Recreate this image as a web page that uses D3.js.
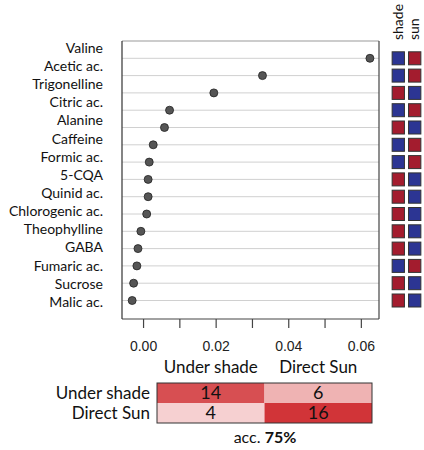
<!DOCTYPE html>
<html>
<head>
<meta charset="utf-8">
<script src="https://cdn.jsdelivr.net/npm/d3@7"></script>
<style>
  body { margin: 0; background: #fff; }
</style>
</head>
<body>
<div id="chart"></div>
<script>
// metabolite names, top to bottom
const metabolites = ["Valine", "Acetic ac.", "Trigonelline", "Citric ac.", "Alanine", "Caffeine",
  "Formic ac.", "5-CQA", "Quinid ac.", "Chlorogenic ac.", "Theophylline", "GABA",
  "Fumaric ac.", "Sucrose", "Malic ac."];
// importance values
const importance = [0.0625, 0.0329, 0.0195, 0.0073, 0.0059, 0.0028, 0.0017, 0.0014,
  0.0014, 0.0010, -0.0006, -0.0014, -0.0017, -0.0026, -0.0030];
// which group is high: "shade" / "sun" column colours per row
const shadeHigh = [true, true, false, true, false, true, true, false, false, false, false, false, true, false, false];
const groups = ["shade", "sun"];
const xTicks = [0, 0.01, 0.02, 0.03, 0.04, 0.05, 0.06];

// confusion matrix
const classes = ["Under shade", "Direct Sun"];
const confusion = [[14, 6], [4, 16]];
const accuracy = "75%";

const width = 424, height = 450;
const svg = d3.select("#chart").append("svg")
  .attr("width", width)
  .attr("height", height);

const box = { left: 122, right: 379, top: 41, bottom: 319 };
const labFont = "Lato, 'Open Sans', sans-serif";

const x = d3.scaleLinear()
  .domain([-0.0058, 0.065])
  .range([box.left, box.right]);

// rows for points / squares
const y = d3.scalePoint()
  .domain(metabolites)
  .range([58.3, 300.5]);

// labels sit a bit off the rows (as in the original)
const yLab = d3.scalePoint()
  .domain(metabolites)
  .range([48, 302]);

// gridlines
svg.selectAll(".grid")
  .data(metabolites)
  .enter()
  .append("line")
  .attr("x1", box.left)
  .attr("x2", box.right)
  .attr("y1", d => y(d))
  .attr("y2", d => y(d))
  .attr("stroke", "#d0d0d0")
  .attr("stroke-width", 1);

// frame
svg.append("line").attr("x1", box.left).attr("x2", box.right).attr("y1", box.top).attr("y2", box.top)
  .attr("stroke", "#999").attr("stroke-width", 1.2);
svg.append("line").attr("x1", box.left).attr("x2", box.right).attr("y1", box.bottom).attr("y2", box.bottom)
  .attr("stroke", "#444").attr("stroke-width", 1.2);
svg.append("line").attr("x1", box.left).attr("x2", box.left).attr("y1", box.top).attr("y2", box.bottom)
  .attr("stroke", "#333").attr("stroke-width", 1.2);
svg.append("line").attr("x1", box.right).attr("x2", box.right).attr("y1", box.top).attr("y2", box.bottom)
  .attr("stroke", "#444").attr("stroke-width", 1.2);

// points
svg.selectAll(".dot")
  .data(metabolites)
  .enter()
  .append("circle")
  .attr("cx", (d, i) => x(importance[i]))
  .attr("cy", d => y(d))
  .attr("r", 4)
  .attr("fill", "#555")
  .attr("stroke", "#222")
  .attr("stroke-width", 0.8);

// metabolite labels
svg.selectAll(".lab")
  .data(metabolites)
  .enter()
  .append("text")
  .attr("x", 103)
  .attr("y", d => yLab(d))
  .attr("dy", "0.35em")
  .attr("text-anchor", "end")
  .attr("font-family", labFont)
  .attr("font-size", 14)
  .attr("fill", "#111")
  .text(d => d);

// x axis
const xAxis = svg.append("g")
  .attr("transform", "translate(0," + 319 + ")")
  .call(d3.axisBottom(x).tickValues(xTicks).tickSize(9)
    .tickFormat(d => (Math.round(d * 100) % 2 === 0 ? d3.format(".2f")(d) : "")));
xAxis.select(".domain").remove();
xAxis.selectAll("line").attr("stroke", "#444").attr("stroke-width", 1.2);
xAxis.selectAll("text")
  .attr("font-family", "'Liberation Sans', Arial, sans-serif")
  .attr("font-size", 14)
  .attr("fill", "#222")
  .attr("y", 22);

// group squares on the right
const gx = d3.scaleBand()
  .domain(groups)
  .range([390.5, 422.5])
  .paddingInner(0.25)
  .paddingOuter(0.1);

const blue = "#2c3593";
const red = "#a31c2e";

metabolites.forEach(function(m, i) {
  groups.forEach(function(g, j) {
    const high = (j === 0) === shadeHigh[i];
    svg.append("rect")
      .attr("x", gx(g))
      .attr("y", y(m) - 6.5)
      .attr("width", gx.bandwidth())
      .attr("height", 13)
      .attr("fill", high ? blue : red)
      .attr("stroke", "#333")
      .attr("stroke-width", 1);
  });
});

svg.selectAll(".grp")
  .data(groups)
  .enter()
  .append("text")
  .attr("transform", d => "translate(" + (gx(d) + gx.bandwidth() / 2 + 4.5) + ",40) rotate(-90)")
  .attr("font-family", labFont)
  .attr("font-size", 14)
  .attr("fill", "#111")
  .text(d => d);

// confusion matrix
const cm = { left: 157, right: 372, top: 383, bottom: 423 };
const cx = d3.scaleBand().domain(classes).range([cm.left, cm.right]);
const cy = d3.scaleBand().domain(classes).range([cm.top, cm.bottom]);
const cmColor = d3.scaleLinear().domain([4, 6, 14, 16])
  .range(["#f6d0d1", "#efb3b3", "#d74f52", "#d13438"]);

classes.forEach(function(r, i) {
  classes.forEach(function(c, j) {
    svg.append("rect")
      .attr("x", cx(c))
      .attr("y", cy(r))
      .attr("width", cx.bandwidth())
      .attr("height", cy.bandwidth())
      .attr("fill", cmColor(confusion[i][j]));
    svg.append("text")
      .attr("x", cx(c) + cx.bandwidth() / 2)
      .attr("y", cy(r) + cy.bandwidth() / 2)
      .attr("dy", "0.36em")
      .attr("text-anchor", "middle")
      .attr("font-family", labFont)
      .attr("font-size", 18)
      .attr("fill", "#111")
      .text(confusion[i][j]);
  });
});

svg.append("rect")
  .attr("x", cm.left)
  .attr("y", cm.top)
  .attr("width", cm.right - cm.left)
  .attr("height", cm.bottom - cm.top)
  .attr("fill", "none")
  .attr("stroke", "#333")
  .attr("stroke-width", 1);

svg.selectAll(".colLab")
  .data(classes)
  .enter()
  .append("text")
  .attr("x", d => cx(d) + cx.bandwidth() / 2)
  .attr("y", 373)
  .attr("text-anchor", "middle")
  .attr("font-family", labFont)
  .attr("font-size", 17)
  .attr("fill", "#111")
  .text(d => d);

svg.selectAll(".rowLab")
  .data(classes)
  .enter()
  .append("text")
  .attr("x", 150)
  .attr("y", d => cy(d) + cy.bandwidth() / 2)
  .attr("dy", "0.36em")
  .attr("text-anchor", "end")
  .attr("font-family", labFont)
  .attr("font-size", 17)
  .attr("fill", "#111")
  .text(d => d);

const acc = svg.append("text")
  .attr("x", 265)
  .attr("y", 443)
  .attr("text-anchor", "middle")
  .attr("font-family", labFont)
  .attr("font-size", 16)
  .attr("fill", "#111");
acc.append("tspan").text("acc. ");
acc.append("tspan").attr("font-weight", "bold").text(accuracy);
</script>
</body>
</html>
